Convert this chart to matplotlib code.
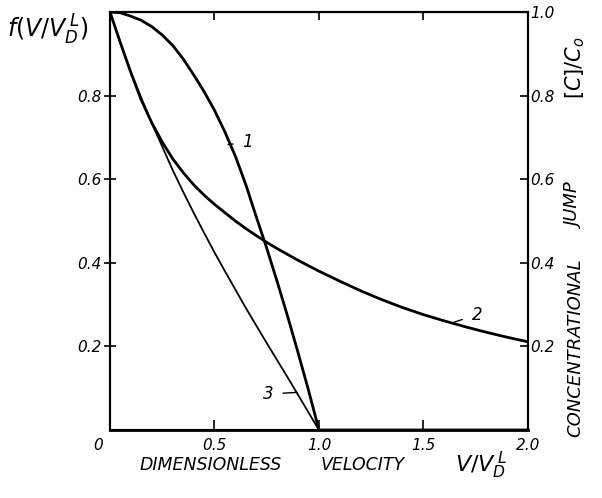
import matplotlib
matplotlib.use("Agg")
import matplotlib.pyplot as plt
import matplotlib.transforms as mtransforms

# ---- data ----
x1 = [0.0, 0.05, 0.1, 0.15, 0.2, 0.25, 0.3, 0.35, 0.4, 0.45, 0.5, 0.55, 0.6,
      0.65, 0.7, 0.75, 0.8, 0.85, 0.9, 0.95, 1.0, 2.0]
y1 = [1.0, 0.998, 0.99, 0.98, 0.965, 0.945, 0.92, 0.888, 0.85, 0.81, 0.765,
      0.713, 0.655, 0.587, 0.51, 0.435, 0.355, 0.272, 0.185, 0.095, 0.0, 0.0]

x2 = [0.0, 0.05, 0.1, 0.15, 0.2, 0.25, 0.3, 0.35, 0.4, 0.45, 0.5, 0.55, 0.6,
      0.65, 0.7, 0.75, 0.8, 0.9, 1.0, 1.1, 1.2, 1.3, 1.4, 1.5, 1.6, 1.7, 1.8,
      1.9, 2.0]
y2 = [1.0, 0.926, 0.855, 0.789, 0.735, 0.689, 0.649, 0.616, 0.587, 0.562,
      0.54, 0.52, 0.50, 0.482, 0.465, 0.449, 0.434, 0.406, 0.38, 0.356, 0.333,
      0.312, 0.293, 0.276, 0.261, 0.247, 0.234, 0.222, 0.211]

x3 = [0.0, 0.05, 0.1, 0.15, 0.2, 0.25, 0.3, 0.35, 0.4, 0.45, 0.5, 0.55, 0.6,
      0.65, 0.7, 0.75, 0.8, 0.85, 0.9, 0.95, 1.0]
y3 = [1.0, 0.926, 0.856, 0.794, 0.734, 0.678, 0.622, 0.57, 0.52, 0.472,
      0.425, 0.38, 0.336, 0.292, 0.25, 0.208, 0.167, 0.126, 0.084, 0.042, 0.0]

xticks = [0.0, 0.5, 1.0, 1.5, 2.0]
xticklabels = ["0", "0.5", "1.0", "1.5", "2.0"]
top_ticks = [0.5, 1.0, 1.5]
lyticks = [0.2, 0.4, 0.6, 0.8]
lyticklabels = ["0.2", "0.4", "0.6", "0.8"]
ryticks = [0.2, 0.4, 0.6, 0.8, 1.0]
ryticklabels = ["0.2", "0.4", "0.6", "0.8", "1.0"]

curve_labels = ["1", "2", "3"]

fig = plt.figure(figsize=(6.02, 4.98), dpi=100)
ax = fig.add_axes([0.1827, 0.1365, 0.6943, 0.8394])
ax.set_xlim(0, 2.0)
ax.set_ylim(0, 1.0)

ax.plot(x1, y1, color="black", lw=2.0, solid_capstyle="round", solid_joinstyle="round")
ax.plot(x2, y2, color="black", lw=2.0, solid_capstyle="round", solid_joinstyle="round")
ax.plot(x3, y3, color="black", lw=1.3, solid_capstyle="round", solid_joinstyle="round")

for s in ax.spines.values():
    s.set_linewidth(1.5)
ax.spines["bottom"].set_linewidth(2.0)

tfont = dict(family="DejaVu Sans", style="italic", size=11)

ax.set_xticks(xticks)
ax.set_xticklabels(xticklabels, **tfont)
ax.set_yticks(lyticks)
ax.set_yticklabels(lyticklabels, **tfont)
ax.tick_params(axis="x", direction="in", length=7, width=1.2, pad=6)
ax.tick_params(axis="y", direction="inout", length=8, width=1.2, pad=2)
# the "0" label sits a little left of the corner in the original
zero_lbl = ax.get_xticklabels()[0]
zero_lbl.set_transform(zero_lbl.get_transform() +
                       mtransforms.ScaledTranslation(-12 / 100, 0, fig.dpi_scale_trans))

topax = ax.secondary_xaxis("top")
topax.set_xticks(top_ticks)
topax.set_xticklabels([])
topax.tick_params(direction="in", length=6, width=1.2)

ax2 = ax.twinx()
ax2.set_ylim(0, 1.0)
ax2.set_yticks(ryticks)
ax2.set_yticklabels(ryticklabels, **tfont)
ax2.tick_params(axis="y", direction="in", length=6, width=1.2, pad=2)
for s in ax2.spines.values():
    s.set_linewidth(1.5)

# curve labels with leader lines
lbl = dict(ha="center", va="center", fontsize=12, style="italic")
arr = dict(arrowstyle="-", lw=1.0, color="black", shrinkA=5, shrinkB=0)
ax.annotate(curve_labels[0], xy=(0.565, 0.683), xytext=(0.66, 0.688), arrowprops=arr, **lbl)
ax.annotate(curve_labels[1], xy=(1.641, 0.257), xytext=(1.756, 0.276), arrowprops=arr, **lbl)
ax.annotate(curve_labels[2], xy=(0.895, 0.09), xytext=(0.756, 0.086), arrowprops=arr, **lbl)

# axis titles
fig.text(0.012, 0.94, r"$f(V/V_D^{\,L})$", fontsize=17, ha="left", va="center")
fig.text(0.232, 0.066, "DIMENSIONLESS", fontsize=12.5, style="italic", ha="left", va="center")
fig.text(0.532, 0.066, "VELOCITY", fontsize=12.5, style="italic", ha="left", va="center")
fig.text(0.755, 0.066, r"$V/V_D^{\,L}$", fontsize=16, ha="left", va="center")

fig.text(0.955, 0.302, "CONCENTRATIONAL", fontsize=13, style="italic", rotation=90,
         ha="center", va="center")
fig.text(0.955, 0.588, "JUMP", fontsize=13, style="italic", rotation=90,
         ha="center", va="center")
fig.text(0.955, 0.865, r"$[C]/C_o$", fontsize=15, rotation=90, ha="center", va="center")

fig.savefig("out.png", dpi=100)
